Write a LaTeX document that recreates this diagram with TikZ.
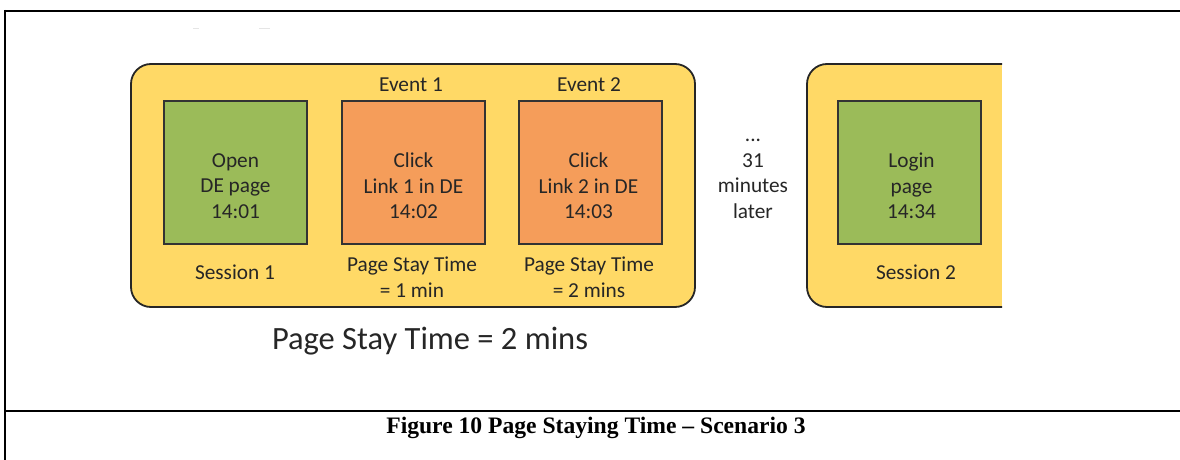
\documentclass[tikz,border=0pt]{standalone}
\usepackage{fontspec}
\setmainfont{Carlito}
\newfontfamily\capfont{Liberation Serif}
\begin{document}
\begin{tikzpicture}[x=1pt,y=-1pt,
  lbl/.style={align=center,inner sep=0pt,font=\fontsize{21.3}{25.5}\selectfont,text=black!85},
  sq/.style={draw=black!80,line width=1.6pt,minimum width=143pt,minimum height=143pt,inner sep=0pt},
  grn/.style={sq,fill={rgb,255:red,155;green,187;blue,89}},
  org/.style={sq,fill={rgb,255:red,245;green,157;blue,90}},
  frame/.style={line width=2.2pt,black},
  thinframe/.style={line width=1.4pt,black}]
\definecolor{ylw}{RGB}{255,217,102}
\useasboundingbox (0,0) rectangle (1180,460);
% outer frame
\draw[frame] (5,11) -- (128,11);
\draw[thinframe] (128,11) -- (1063,11);
\draw[frame] (1063,11) -- (1180,11);
\draw[frame] (5,10) -- (5,460);
\draw[frame] (5,411) -- (1180,411);
% faint marks
\draw[black!10,line width=1pt] (193,29) -- (199,29);
\draw[black!10,line width=1pt] (259,29) -- (270,29);
% session containers
\draw[line width=1.8pt,black!85,fill=ylw,rounded corners=20pt] (131,64) rectangle (695,307);
\fill[ylw,rounded corners=20pt] (807,64) rectangle (1040,307);
\fill[white] (1002,60) rectangle (1045,312);
\draw[line width=1.8pt,black!85] (1002,64) -- (827,64) arc[start angle=90,end angle=180,radius=20pt] -- (807,287) arc[start angle=180,end angle=270,radius=20pt] -- (1002,307);
% boxes
\node[grn] (g1) at (235.5,172.5) {};
\node[org] (o1) at (413.5,172.5) {};
\node[org] (o2) at (590.5,172.5) {};
\node[grn] (g2) at (909.5,172.5) {};
\node[lbl] (t1) at (235.5,186) {Open\\DE page\\14:01};
\node[lbl] (t2) at (413.5,186) {Click\\Link 1 in DE\\14:02};
\node[lbl] (t3) at (588.5,186) {Click\\Link 2 in DE\\14:03};
\node[lbl] (t4) at (911.5,186) {Login\\page\\14:34};
\node[lbl] (e1) at (411,85) {Event 1};
\node[lbl] (e2) at (589,85) {Event 2};
\node[lbl] (s1) at (235,272) {Session 1};
\node[lbl] (s2) at (916,272) {Session 2};
\node[lbl] (p1) at (412,277) {Page Stay Time\\= 1 min};
\node[lbl] (p2) at (589,277) {Page Stay Time\\= 2 mins};
\node[lbl] (gap) at (753,179) {...\\31\\minutes\\later};
\node[inner sep=0pt,font=\fontsize{32.5}{36}\selectfont,text=black!85] (tot) at (430,341) {Page Stay Time = 2 mins};
\node[inner sep=0pt,font=\capfont\bfseries\fontsize{23.6}{26}\selectfont] (cap) at (596,428) {Figure 10 Page Staying Time – Scenario 3};
\end{tikzpicture}
\end{document}
